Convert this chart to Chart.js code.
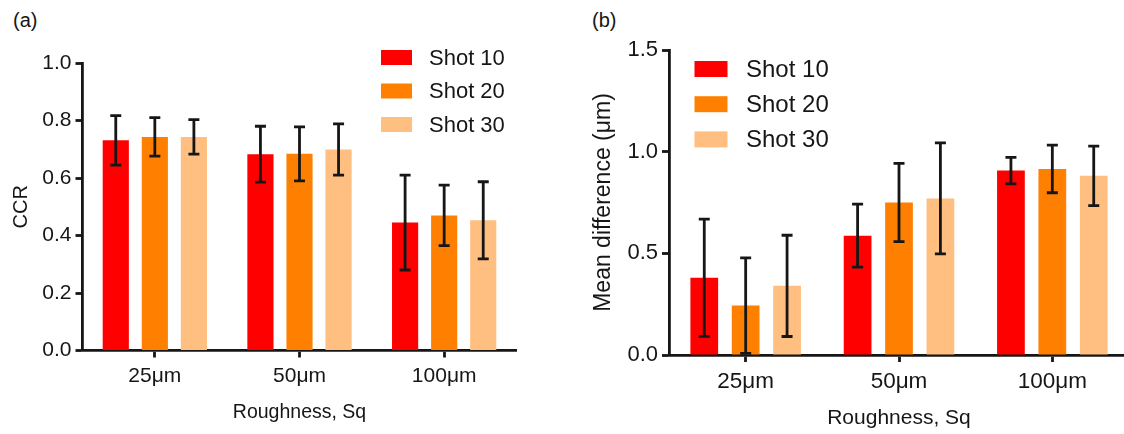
<!DOCTYPE html>
<html lang="en">
<head>
  <meta charset="UTF-8">
  <title>CCR and mean difference by roughness</title>
  <script src="https://cdn.jsdelivr.net/npm/chart.js"></script>
  <style>
    html, body { margin: 0; padding: 0; background: #fff; overflow: hidden; }
    body { width: 1124px; height: 434px; position: relative; font-family: "Liberation Sans", Arial, sans-serif; }
    .panel { position: absolute; top: 0; }
    .tag { position: absolute; top: 10px; font-size: 20px; line-height: 20px; color: #161616; }
  </style>
</head>
<body>
  <div class="tag" style="left: 13px;">(a)</div>
  <div class="tag" style="left: 592px;">(b)</div>
  <canvas id="ccrChart" class="panel" width="560" height="434" style="left: 0;"></canvas>
  <canvas id="diffChart" class="panel" width="575" height="434" style="left: 560px;"></canvas>

  <script>
    // categories and series labels
    const roughness = ['25μm', '50μm', '100μm'];
    const shots = ['Shot 10', 'Shot 20', 'Shot 30'];
    const shotColors = ['#ff0000', '#ff8000', '#ffbf80'];

    // (a) CCR, mean and SD
    const ccrShot10 = [0.731, 0.683, 0.445];
    const ccrShot20 = [0.743, 0.684, 0.470];
    const ccrShot30 = [0.743, 0.699, 0.453];
    const ccrShot10Sd = [0.086, 0.097, 0.165];
    const ccrShot20Sd = [0.067, 0.094, 0.105];
    const ccrShot30Sd = [0.060, 0.089, 0.134];

    // (b) mean difference (um), mean and SD
    const diffShot10 = [0.380, 0.587, 0.907];
    const diffShot20 = [0.243, 0.750, 0.915];
    const diffShot30 = [0.340, 0.770, 0.881];
    const diffShot10Sd = [0.288, 0.155, 0.065];
    const diffShot20Sd = [0.235, 0.192, 0.117];
    const diffShot30Sd = [0.249, 0.273, 0.146];

    const ccrTicks = [0, 0.2, 0.4, 0.6, 0.8, 1.0];
    const diffTicks = [0, 0.5, 1.0, 1.5];

    const ink = '#161616';
    const FONT = '"Liberation Sans", Arial, sans-serif';

    // error bars (mean +/- sd) on top of each bar
    const errorBars = {
      id: 'errorBars',
      afterDatasetsDraw(chart) {
        const ctx = chart.ctx;
        const y = chart.scales.y;
        ctx.save();
        ctx.strokeStyle = ink;
        ctx.lineWidth = 2.8;
        chart.data.datasets.forEach((ds, i) => {
          chart.getDatasetMeta(i).data.forEach((bar, j) => {
            const hi = y.getPixelForValue(ds.data[j] + ds.errors[j]);
            const lo = y.getPixelForValue(ds.data[j] - ds.errors[j]);
            ctx.beginPath();
            ctx.moveTo(bar.x, hi); ctx.lineTo(bar.x, lo);
            ctx.moveTo(bar.x - 5.5, hi); ctx.lineTo(bar.x + 5.5, hi);
            ctx.moveTo(bar.x - 5.5, lo); ctx.lineTo(bar.x + 5.5, lo);
            ctx.stroke();
          });
        });
        ctx.restore();
      }
    };

    // legend drawn inside the plot
    const boxLegend = {
      id: 'boxLegend',
      afterDraw(chart, args, opts) {
        const ctx = chart.ctx;
        ctx.save();
        ctx.font = opts.size + 'px ' + FONT;
        ctx.textBaseline = 'middle';
        chart.data.datasets.forEach((ds, i) => {
          const cy = opts.y + i * opts.gap;
          ctx.fillStyle = ds.backgroundColor;
          ctx.fillRect(opts.x, cy - opts.boxH / 2, opts.boxW, opts.boxH);
          ctx.fillStyle = ink;
          ctx.fillText(ds.label, opts.textX, cy + 1);
        });
        ctx.restore();
      }
    };

    function makeDatasets(values, sds) {
      return values.map((v, i) => ({
        label: shots[i],
        data: v,
        errors: sds[i],
        backgroundColor: shotColors[i],
        borderWidth: 0,
        categoryPercentage: 0.81,
        barPercentage: 0.67
      }));
    }

    function makeChart(id, cfg) {
      return new Chart(document.getElementById(id), {
        type: 'bar',
        data: {
          labels: roughness,
          datasets: makeDatasets(cfg.values, cfg.sds)
        },
        plugins: [errorBars, boxLegend],
        options: {
          responsive: false,
          animation: false,
          devicePixelRatio: 1,
          layout: { padding: cfg.padding },
          plugins: {
            legend: { display: false },
            tooltip: { enabled: false },
            boxLegend: cfg.legend
          },
          scales: {
            x: {
              offset: true,
              afterFit: (s) => { s.height = cfg.xHeight; },
              grid: { offset: false, drawOnChartArea: false, tickLength: 7, tickWidth: 2.8, tickColor: ink },
              border: { display: true, color: ink, width: 2.8 },
              ticks: { color: ink, padding: cfg.xPad, maxRotation: 0, font: { family: FONT, size: cfg.xTickSize } },
              title: { display: true, text: 'Roughness, Sq', color: ink, padding: { top: 0, bottom: cfg.xTitlePad }, font: { family: FONT, size: cfg.xTitleSize } }
            },
            y: {
              min: cfg.ticks[0],
              max: cfg.ticks[cfg.ticks.length - 1],
              afterFit: (s) => { s.width = cfg.yWidth; },
              afterBuildTicks: (s) => { s.ticks = cfg.ticks.map(v => ({ value: v })); },
              grid: { drawOnChartArea: false, tickLength: 7, tickWidth: 2.8, tickColor: ink },
              border: { display: true, color: ink, width: 2.8 },
              ticks: { color: ink, padding: 4, font: { family: FONT, size: cfg.yTickSize }, callback: (v) => v.toFixed(1) },
              title: { display: true, text: cfg.yTitle, color: ink, padding: { top: cfg.yTitlePad, bottom: 0 }, font: { family: FONT, size: cfg.yTitleSize } }
            }
          }
        }
      });
    }

    makeChart('ccrChart', {
      values: [ccrShot10, ccrShot20, ccrShot30],
      sds: [ccrShot10Sd, ccrShot20Sd, ccrShot30Sd],
      ticks: ccrTicks,
      padding: { left: 0, top: 63, right: 43.5, bottom: 0 },
      yWidth: 82.5, xHeight: 83.5,
      xTickSize: 21, yTickSize: 21, xPad: 6,
      xTitleSize: 19.5, xTitlePad: 10,
      yTitle: 'CCR', yTitleSize: 20, yTitlePad: 9,
      legend: { x: 381, y: 57.5, gap: 33.5, boxW: 31, boxH: 15, textX: 429, size: 22 }
    });

    makeChart('diffChart', {
      values: [diffShot10, diffShot20, diffShot30],
      sds: [diffShot10Sd, diffShot20Sd, diffShot30Sd],
      ticks: diffTicks,
      padding: { left: 0, top: 50, right: 6, bottom: 0 },
      yWidth: 109, xHeight: 79,
      xTickSize: 22.5, yTickSize: 22, xPad: 6,
      xTitleSize: 21, xTitlePad: 3,
      yTitle: 'Mean difference (μm)', yTitleSize: 23, yTitlePad: 30,
      legend: { x: 134.5, y: 69, gap: 35.2, boxW: 33, boxH: 16, textX: 186, size: 24 }
    });
  </script>
</body>
</html>
